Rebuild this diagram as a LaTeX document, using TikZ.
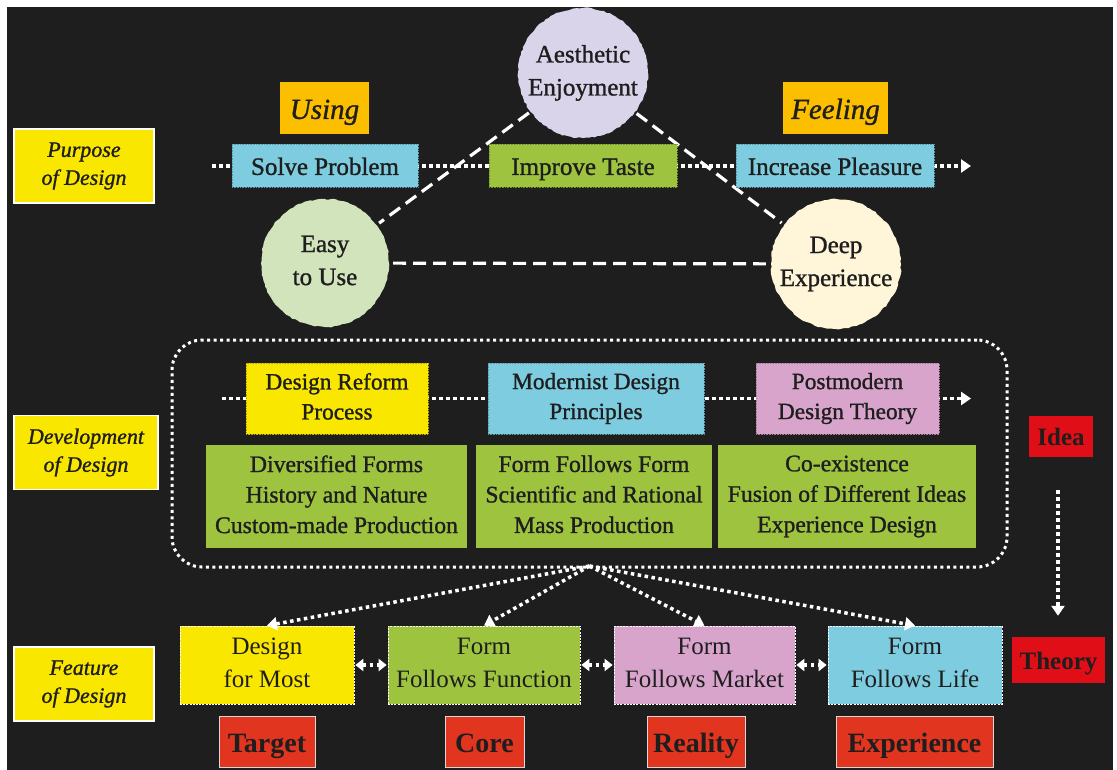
\documentclass[tikz,border=0pt]{standalone}
\usepackage{fontspec}
\setmainfont{Liberation Serif}
\newfontfamily\medfont[FakeBold=1.1]{Liberation Serif}
\usetikzlibrary{arrows.meta,decorations.pathmorphing}

% strut that keeps the letters centred in their line; #1 sets the lift
\newcommand\centerstrut[1]{\vrule width 0pt height \dimexpr(\baselineskip+#1)/2\relax
  depth \dimexpr(\baselineskip-#1)/2\relax}

\definecolor{bg}{HTML}{1E1E1E}
\definecolor{ink}{HTML}{1E1E1E}
\definecolor{sideyellow}{HTML}{FAE700}
\definecolor{tagorange}{HTML}{FBBF00}
\definecolor{skyblue}{HTML}{7ECCE0}
\definecolor{leafgreen}{HTML}{9DC33F}
\definecolor{rosepink}{HTML}{D8A4CB}
\definecolor{lavender}{HTML}{DAD4EA}
\definecolor{palegreen}{HTML}{D2E4BC}
\definecolor{cream}{HTML}{FFF5D9}
\definecolor{deepred}{HTML}{E00E17}
\definecolor{labelred}{HTML}{E2351F}

\tikzset{
  every node/.style={text=ink, align=center, inner sep=0pt,
    execute at begin node=\centerstrut{0.9em}, execute at end node=\centerstrut{0.9em}},
  oneline/.style={execute at begin node=\centerstrut{0.6em},
    execute at end node=\centerstrut{0.6em}},
  sidebox/.style={fill=sideyellow, draw=white, line width=1.6pt,
    minimum width=140pt, minimum height=74pt,
    font=\medfont\fontsize{22}{28}\selectfont\itshape},
  tagbox/.style={oneline, fill=tagorange, minimum height=52pt,
    font=\medfont\fontsize{29}{34}\selectfont\itshape},
  rowbox/.style={oneline, fill=#1, draw=#1!75!black, densely dotted, line width=0.6pt,
    minimum height=43pt, font=\medfont\fontsize{25}{30}\selectfont},
  phasebox/.style={fill=#1, draw=#1!75!black, densely dotted, line width=0.6pt,
    minimum height=71pt, font=\medfont\fontsize{23.3}{30}\selectfont},
  traitbox/.style={fill=leafgreen, minimum height=103pt,
    font=\medfont\fontsize{23.7}{30.5}\selectfont},
  featbox/.style={fill=#1, draw=white, dash pattern=on 2pt off 1.2pt, line width=0.7pt,
    minimum height=78pt, font=\fontsize{25}{33}\selectfont},
  redlabel/.style={oneline, fill=labelred, draw=white!85!black, line width=1pt,
    minimum height=51pt, font=\fontsize{28}{32}\selectfont\bfseries},
  ideabox/.style={oneline, fill=deepred, font=\fontsize{25}{30}\selectfont\bfseries},
  bubble/.style={circle, fill=#1, minimum size=130pt,
    decoration={random steps, segment length=3pt, amplitude=0.7pt}, decorate,
    font=\medfont\fontsize{25}{33}\selectfont},
  dotline/.style={white, line width=3.5pt, dash pattern=on 3.5pt off 3.5pt},
  dashline/.style={white, line width=3.2pt, dash pattern=on 13pt off 7pt},
  tip/.style={-{Triangle[width=13pt,length=10pt]}},
  twotip/.style={{Triangle[width=12pt,length=8pt]}-{Triangle[width=12pt,length=8pt]}},
}

\begin{document}
\begin{tikzpicture}[x=1pt, y=-1pt]
  \useasboundingbox (0,0) rectangle (1117,770);
  \fill[white] (0,0) rectangle (1117,770);
  \fill[bg] (7,7) rectangle (1113,770);

  % row labels on the left
  \node[sidebox] (purpose) at (84,166) {Purpose\\of Design};
  \node[sidebox, minimum width=144pt] (development) at (86,452.5) {Development\\of Design};
  \node[sidebox] (feature) at (84,684) {Feature\\of Design};

  % purpose of design: flow line and circles
  \coordinate (topstart) at (212,166);
  \coordinate (topend) at (971,166);
  \draw[dotline, tip] (topstart) -- (topend);

  \node[bubble=lavender] (aesth) at (583,73) {Aesthetic\\Enjoyment};
  \node[bubble=palegreen, minimum size=128pt] (easy) at (325,263) {Easy\\to Use};
  \node[bubble=cream, minimum size=130pt] (deep) at (836,264) {Deep\\Experience};

  \draw[dashline, shorten <=2pt, shorten >=3pt] (aesth) -- (easy);
  \draw[dashline, shorten <=2pt, shorten >=3pt] (aesth) -- (deep);
  \draw[dashline, shorten <=4pt, shorten >=5pt] (easy) -- (deep);

  \node[tagbox, minimum width=89pt] (using) at (324.5,108) {Using};
  \node[tagbox, minimum width=105pt] (feeling) at (835.5,108) {Feeling};

  \node[rowbox=skyblue, minimum width=186pt] (solve) at (325,165.5) {Solve Problem};
  \node[rowbox=leafgreen, minimum width=188pt] (taste) at (583,165.5) {Improve Taste};
  \node[rowbox=skyblue, minimum width=198pt] (pleasure) at (835,165.5) {Increase Pleasure};

  % development of design
  \node[draw=white, line width=3pt, dash pattern=on 3pt off 3.5pt, rounded corners=30pt,
        minimum width=835pt, minimum height=227pt] (frame) at (589.5,453.5) {};

  \coordinate (midstart) at (222,398.5);
  \coordinate (midend) at (971,398.5);
  \draw[dotline, tip] (midstart) -- (midend);

  \node[phasebox=sideyellow, minimum width=182pt] (reform) at (337,398.5) {Design Reform\\Process};
  \node[phasebox=skyblue, minimum width=216pt] (modern) at (596,398.5) {Modernist Design\\Principles};
  \node[phasebox=rosepink, minimum width=183pt] (postmod) at (847.5,398.5) {Postmodern\\Design Theory};

  \node[traitbox, minimum width=261pt] (trait1) at (336.5,496.5)
    {Diversified Forms\\History and Nature\\Custom-made Production};
  \node[traitbox, minimum width=236pt] (trait2) at (594,496.5)
    {Form Follows Form\\Scientific and Rational\\Mass Production};
  \node[traitbox, minimum width=258pt] (trait3) at (847,496.5)
    {Co-existence\\Fusion of Different Ideas\\Experience Design};

  % idea to theory
  \node[ideabox, minimum width=64pt, minimum height=41pt] (idea) at (1061,436.5) {Idea};
  \node[ideabox, minimum width=93pt, minimum height=46pt] (theory) at (1058.5,660) {Theory};
  \draw[dotline, tip, shorten <=33pt, shorten >=21pt] (1058,436.5 |- idea.south) -- (1058,660 |- theory.north);

  % feature of design
  \node[featbox=sideyellow, minimum width=174pt] (most) at (267,665) {Design\\for Most};
  \node[featbox=leafgreen, minimum width=192pt] (function) at (484,665) {Form\\Follows Function};
  \node[featbox=rosepink, minimum width=181pt] (market) at (704.5,665) {Form\\Follows Market};
  \node[featbox=skyblue, minimum width=174pt] (life) at (915,665) {Form\\Follows Life};

  \coordinate (fan) at (589.5,566);
  \draw[dotline, tip] (fan) -- (most.north);
  \draw[dotline, tip] (fan) -- (function.north);
  \draw[dotline, tip] (fan) -- (market.north);
  \draw[dotline, tip] (fan) -- (life.north);

  \draw[dotline, twotip, shorten <=1pt, shorten >=1pt] (most.east) -- (function.west);
  \draw[dotline, twotip, shorten <=1pt, shorten >=1pt] (function.east) -- (market.west);
  \draw[dotline, twotip, shorten <=1pt, shorten >=1pt] (market.east) -- (life.west);

  \node[redlabel, minimum width=96pt] (target) at (267,741.5) {Target};
  \node[redlabel, minimum width=79pt] (core) at (484.5,741.5) {Core};
  \node[redlabel, minimum width=98pt] (reality) at (696,741.5) {Reality};
  \node[redlabel, minimum width=157pt] (experience) at (914.5,741.5) {Experience};
\end{tikzpicture}
\end{document}
